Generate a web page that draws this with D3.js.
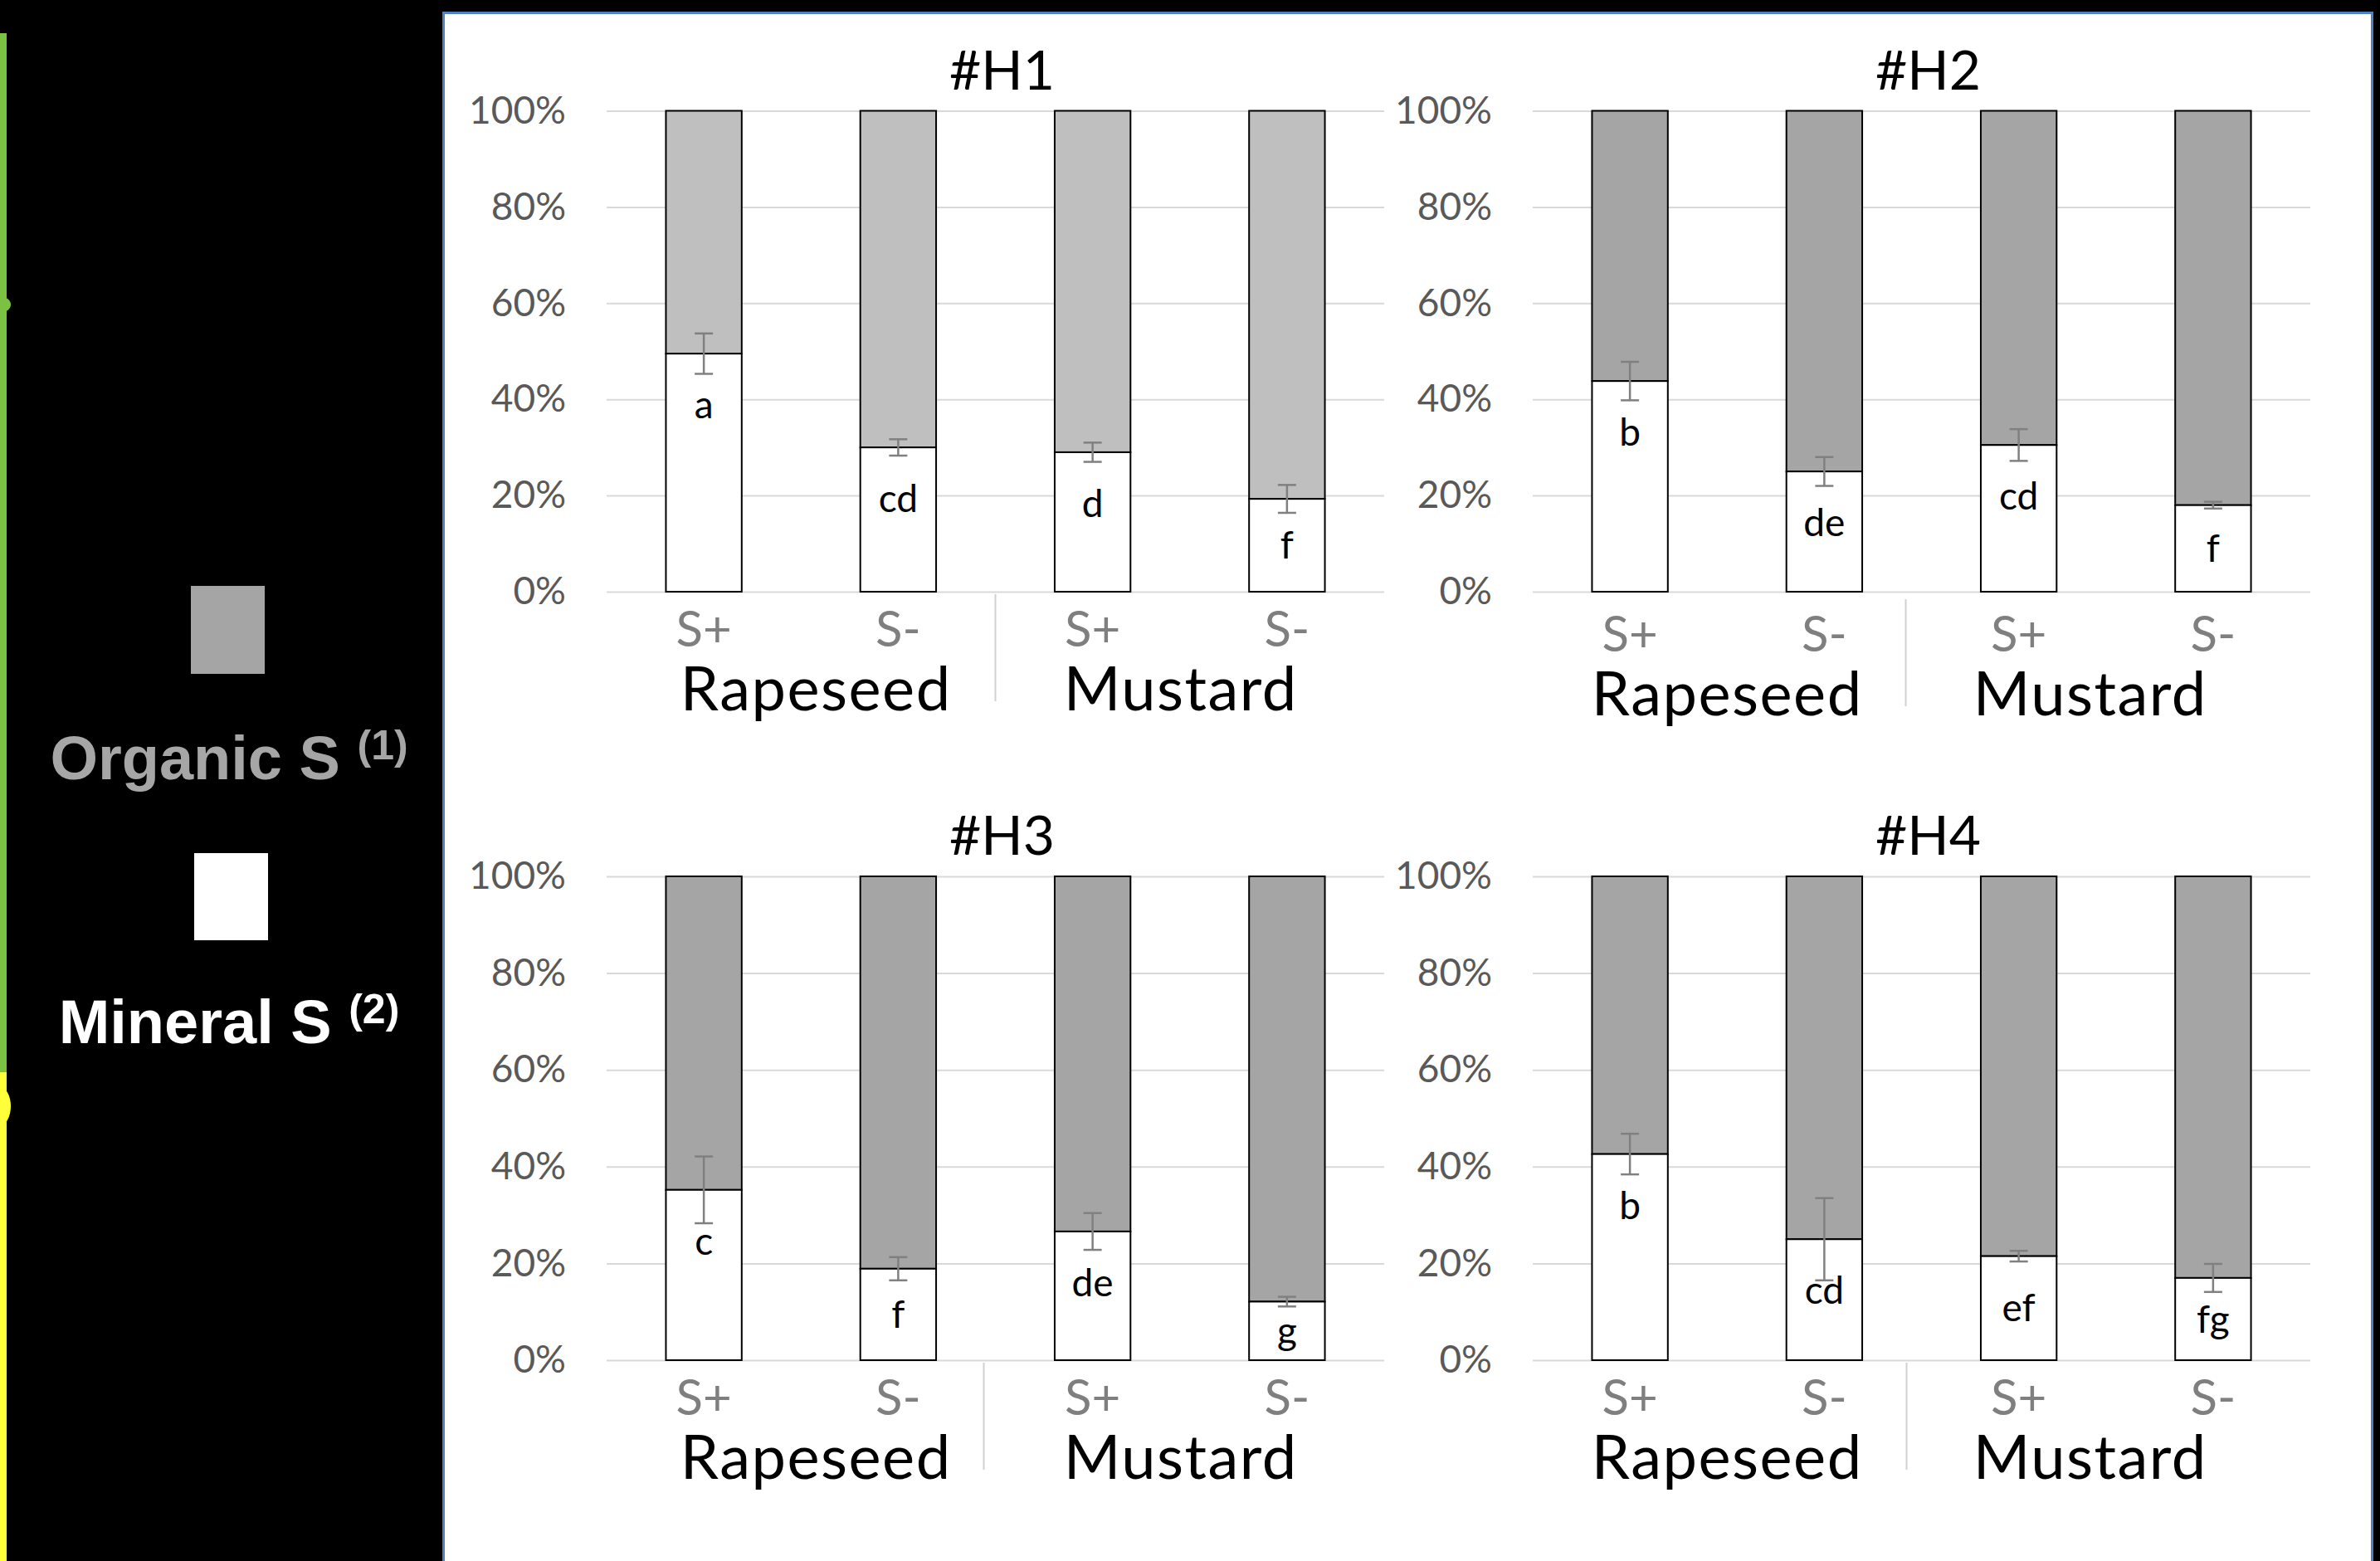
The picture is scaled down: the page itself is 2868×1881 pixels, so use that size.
<!DOCTYPE html>
<html>
<head>
<meta charset="utf-8">
<script src="https://cdn.jsdelivr.net/npm/d3@7"></script>
<style>
    body { margin: 0; background: #000; }
    svg { display: block; }
</style>
</head>
<body>
<div id="chart"></div>
<script>
// ---- data ----
const panelTitles = ["#H1", "#H2", "#H3", "#H4"];
const crops = ["Rapeseed", "Mustard"];
const treatments = ["S+", "S-", "S+", "S-"];
const categories = ["Rapeseed S+", "Rapeseed S-", "Mustard S+", "Mustard S-"];

// mineral S share (%), organic S is the rest up to 100%
const mineralH1 = [49.5, 30.0, 29.0, 19.3];
const mineralH2 = [43.8, 25.0, 30.5, 18.0];
const mineralH3 = [35.2, 18.9, 26.6, 12.1];
const mineralH4 = [42.6, 25.0, 21.5, 17.0];

// error bars (+/-, %)
const errH1 = [4.2, 1.7, 2.0, 2.9];
const errH2 = [4.0, 3.0, 3.3, 0.7];
const errH3 = [6.9, 2.4, 3.8, 1.0];
const errH4 = [4.2, 8.5, 1.1, 2.9];

// significance letters
const lettersH1 = ["a", "cd", "d", "f"];
const lettersH2 = ["b", "de", "cd", "f"];
const lettersH3 = ["c", "f", "de", "g"];
const lettersH4 = ["b", "cd", "ef", "fg"];

const yTicks = [0, 20, 40, 60, 80, 100];

const legendLabels = ["Organic S", "Mineral S"];
const legendNotes = ["(1)", "(2)"];

// ---- layout ----
const W = 2868, H = 1881;
const svg = d3.select("#chart").append("svg")
    .attr("width", W)
    .attr("height", H);

svg.append("rect")
    .attr("width", W).attr("height", H)
    .attr("fill", "#000");

// left timeline strip
svg.append("rect").attr("x", 0).attr("y", 40).attr("width", 8).attr("height", 1252).attr("fill", "#7cc242");
svg.append("ellipse").attr("cx", 0).attr("cy", 367).attr("rx", 13).attr("ry", 10).attr("fill", "#7cc242");
svg.append("rect").attr("x", 0).attr("y", 1292).attr("width", 8).attr("height", H - 1292).attr("fill", "#ffff3a");
svg.append("ellipse").attr("cx", 0).attr("cy", 1333).attr("rx", 13).attr("ry", 23).attr("fill", "#ffff3a");

// legend
let legend = svg.append("g").attr("class", "legend");
legend.append("rect").attr("x", 230).attr("y", 706).attr("width", 89).attr("height", 106).attr("fill", "#a5a5a5");
legend.append("rect").attr("x", 234).attr("y", 1028).attr("width", 89).attr("height", 105).attr("fill", "#fff");

[939, 1257].forEach((yb, i) => {
    let t = legend.append("text")
        .attr("x", 276)
        .attr("y", yb)
        .attr("text-anchor", "middle")
        .style("font-family", "'Liberation Sans', Arial, sans-serif")
        .style("font-weight", "bold")
        .style("font-size", "74px")
        .attr("fill", i === 0 ? "#a6a6a6" : "#ffffff");
    t.append("tspan").text(legendLabels[i] + " ");
    t.append("tspan")
        .attr("dy", -24)
        .style("font-size", "50px")
        .text(legendNotes[i]);
});

// white panel
svg.append("rect")
    .attr("x", 534.5).attr("y", 15.5)
    .attr("width", 2324).attr("height", 1900)
    .attr("fill", "#fff")
    .attr("stroke", "#4f81c4")
    .attr("stroke-width", 3);

// per-panel placement (group label / separator nudges follow the original figure)
const panels = [
    {title: panelTitles[0], values: mineralH1, err: errH1, letters: lettersH1, fill: "#bfbfbf",
        x0: 731, x1: 1668, y0: 133.5, y1: 713, drop: 0, sep: 0, shift: [18, -11]},
    {title: panelTitles[1], values: mineralH2, err: errH2, letters: lettersH2, fill: "#a5a5a5",
        x0: 1847, x1: 2784, y0: 133.5, y1: 713, drop: 6, sep: -19, shift: [0, -31]},
    {title: panelTitles[2], values: mineralH3, err: errH3, letters: lettersH3, fill: "#a5a5a5",
        x0: 731, x1: 1668, y0: 1056, y1: 1639, drop: 0, sep: -14, shift: [18, -11]},
    {title: panelTitles[3], values: mineralH4, err: errH4, letters: lettersH4, fill: "#a5a5a5",
        x0: 1847, x1: 2784, y0: 1056, y1: 1639, drop: 0, sep: -18, shift: [0, -31]}
];

const font = "Lato, 'Open Sans', sans-serif";

panels.forEach(p => {
    let g = svg.append("g").attr("class", "panel");

    let x = d3.scaleBand()
        .domain(categories)
        .range([p.x0, p.x1])
        .paddingInner(0.61)
        .paddingOuter(0.305);

    let y = d3.scaleLinear()
        .domain([0, 100])
        .range([p.y1, p.y0]);

    // gridlines + tick labels
    let yAxis = d3.axisLeft(y)
        .tickValues(yTicks)
        .tickFormat(d => d + "%")
        .tickSize(-(p.x1 - p.x0))
        .tickPadding(49);

    let ax = g.append("g")
        .attr("class", "y-axis")
        .attr("transform", `translate(${p.x0},0)`)
        .call(yAxis);
    ax.select(".domain").remove();
    ax.selectAll(".tick line").attr("stroke", "#d9d9d9").attr("stroke-width", 2);
    ax.selectAll(".tick text")
        .attr("fill", "#595959")
        .style("font-family", font)
        .style("font-size", "46px");

    // title
    g.append("text")
        .attr("x", (p.x0 + p.x1) / 2 + 8)
        .attr("y", p.y0 - 26)
        .attr("text-anchor", "middle")
        .style("font-family", font)
        .style("font-size", "66px")
        .attr("fill", "#000")
        .text(p.title);

    // organic part (top)
    g.selectAll(".organic")
        .data(p.values)
        .enter().append("rect")
        .attr("class", "organic")
        .attr("x", (d, i) => x(categories[i]))
        .attr("width", x.bandwidth())
        .attr("y", y(100))
        .attr("height", d => y(d) - y(100))
        .attr("fill", p.fill)
        .attr("stroke", "#000")
        .attr("stroke-width", 2);

    // mineral part (bottom)
    g.selectAll(".mineral")
        .data(p.values)
        .enter().append("rect")
        .attr("class", "mineral")
        .attr("x", (d, i) => x(categories[i]))
        .attr("width", x.bandwidth())
        .attr("y", d => y(d))
        .attr("height", d => y(0) - y(d))
        .attr("fill", "#fff")
        .attr("stroke", "#000")
        .attr("stroke-width", 2);

    // error bars
    let eb = g.selectAll(".err")
        .data(p.values)
        .enter().append("g")
        .attr("class", "err")
        .attr("stroke", "#808080")
        .attr("stroke-width", 2.5);
    let cx = (i) => x(categories[i]) + x.bandwidth() / 2;
    eb.append("line")
        .attr("x1", (d, i) => cx(i)).attr("x2", (d, i) => cx(i))
        .attr("y1", (d, i) => y(d - p.err[i]))
        .attr("y2", (d, i) => y(d + p.err[i]));
    eb.append("line")
        .attr("x1", (d, i) => cx(i) - 11).attr("x2", (d, i) => cx(i) + 11)
        .attr("y1", (d, i) => y(d + p.err[i]))
        .attr("y2", (d, i) => y(d + p.err[i]));
    eb.append("line")
        .attr("x1", (d, i) => cx(i) - 11).attr("x2", (d, i) => cx(i) + 11)
        .attr("y1", (d, i) => y(d - p.err[i]))
        .attr("y2", (d, i) => y(d - p.err[i]));

    // letters inside the white part
    g.selectAll(".letter")
        .data(p.values)
        .enter().append("text")
        .attr("class", "letter")
        .attr("x", (d, i) => cx(i))
        .attr("y", d => Math.min(y(d) + 62, y(d / 2)))
        .attr("dy", "0.35em")
        .attr("text-anchor", "middle")
        .style("font-family", font)
        .style("font-size", "46px")
        .attr("fill", "#000")
        .text((d, i) => p.letters[i]);

    // treatment labels
    g.selectAll(".treat")
        .data(categories)
        .enter().append("text")
        .attr("class", "treat")
        .attr("x", d => x(d) + x.bandwidth() / 2)
        .attr("y", p.y1 + 66 + p.drop)
        .attr("text-anchor", "middle")
        .style("font-family", font)
        .style("font-size", "60px")
        .attr("fill", "#7f7f7f")
        .text((d, i) => treatments[i]);

    // crop group labels
    crops.forEach((c, k) => {
        let a = x(categories[k * 2]), b = x(categories[k * 2 + 1]) + x.bandwidth();
        g.append("text")
            .attr("x", (a + b) / 2 + p.shift[k])
            .attr("y", p.y1 + 143 + p.drop)
            .attr("text-anchor", "middle")
            .style("font-family", font)
            .style("font-size", "74px")
            .style("letter-spacing", "1.5px")
            .attr("fill", "#000")
            .text(c);
    });

    // group separator
    let mid = (p.x0 + p.x1) / 2 + p.sep;
    g.append("line")
        .attr("x1", mid).attr("x2", mid)
        .attr("y1", p.y1 + 3 + p.drop).attr("y2", p.y1 + 132 + p.drop)
        .attr("stroke", "#d0d0d0")
        .attr("stroke-width", 2);
});
</script>
</body>
</html>
